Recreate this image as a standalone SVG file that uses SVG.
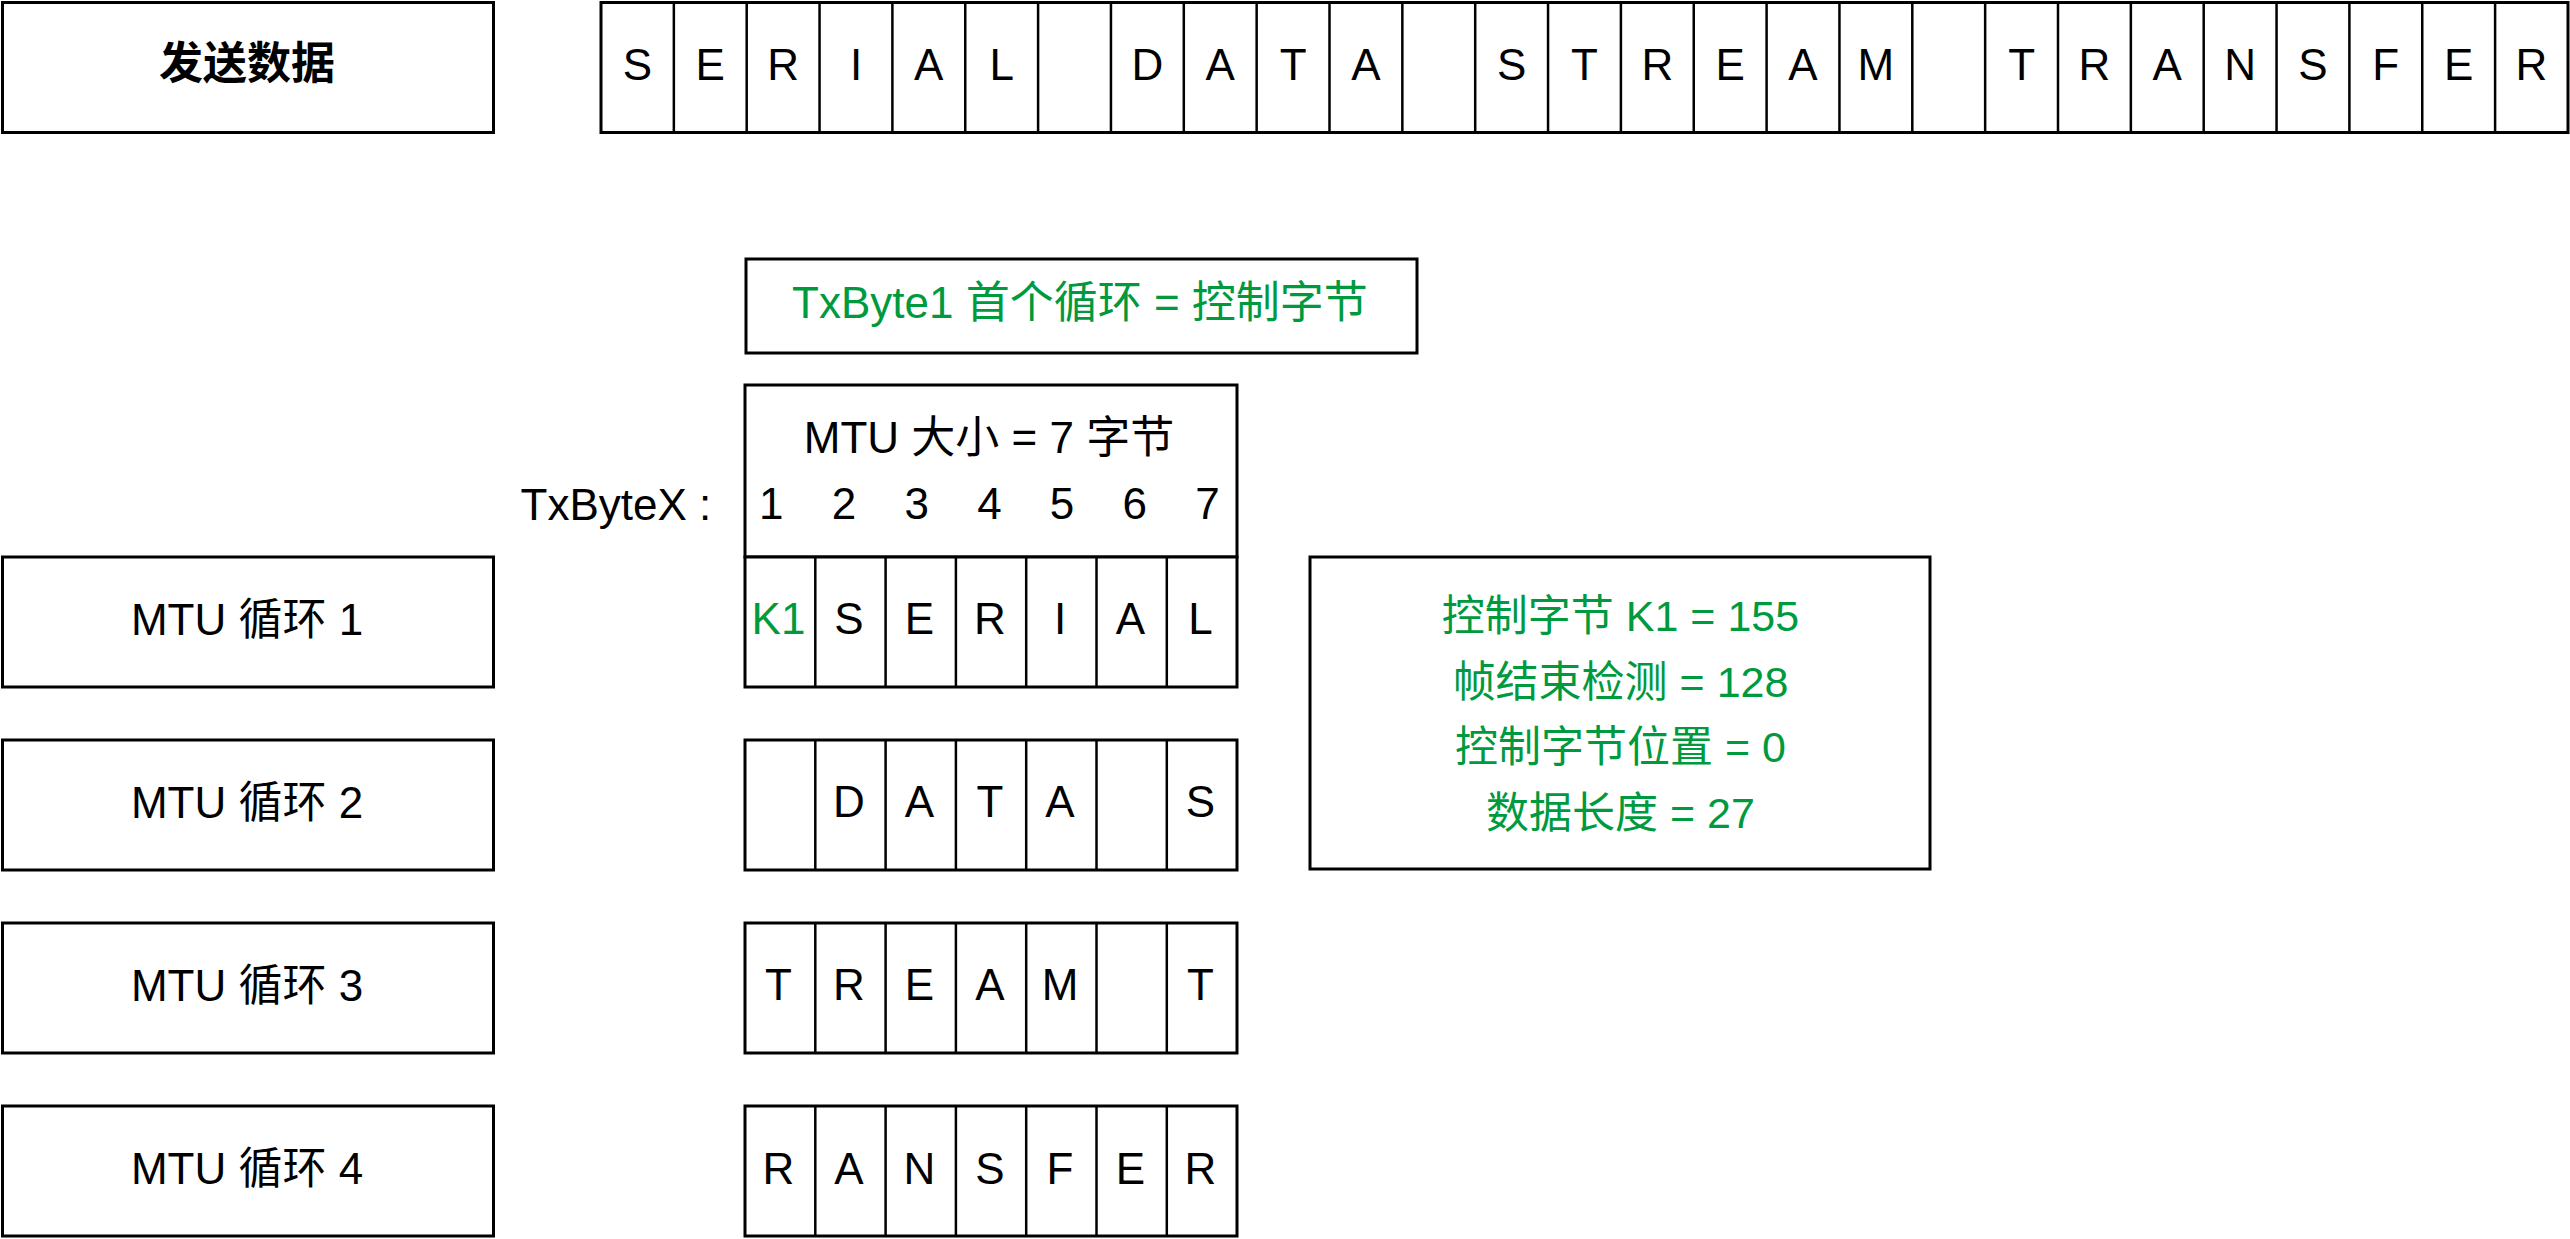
<svg xmlns="http://www.w3.org/2000/svg" width="2570" height="1239" viewBox="0 0 2570 1239">
<style>
.bx{fill:#fff;stroke:#000;stroke-width:3}
.dv{fill:none;stroke:#000;stroke-width:2.5}
text{font-family:"Liberation Sans","Noto Sans CJK SC",sans-serif;font-size:44px;fill:#000}
.c{text-anchor:middle}
.g{fill:#009A3E}
.b{font-weight:bold}
.i{font-size:43px}
</style>
<rect width="2570" height="1239" fill="#fff"/>
<g id="send-data">
<rect class="bx" x="2.5" y="2.5" width="491" height="130"/>
<text class="c b" x="247" y="79">发送数据</text>
</g>
<g id="data-strip">
<rect class="bx" x="601" y="2.5" width="1967" height="130"/>
<path class="dv" d="M673.85 2.5V132.5M746.7 2.5V132.5M819.55 2.5V132.5M892.4 2.5V132.5M965.25 2.5V132.5M1038.1 2.5V132.5M1110.95 2.5V132.5M1183.8 2.5V132.5M1256.65 2.5V132.5M1329.5 2.5V132.5M1402.35 2.5V132.5M1475.2 2.5V132.5M1548.05 2.5V132.5M1620.9 2.5V132.5M1693.75 2.5V132.5M1766.6 2.5V132.5M1839.45 2.5V132.5M1912.3 2.5V132.5M1985.15 2.5V132.5M2058 2.5V132.5M2130.85 2.5V132.5M2203.7 2.5V132.5M2276.55 2.5V132.5M2349.4 2.5V132.5M2422.25 2.5V132.5M2495.1 2.5V132.5"/>
<g class="c">
<text class="c" x="637.4" y="80">S</text>
<text class="c" x="710.3" y="80">E</text>
<text class="c" x="783.1" y="80">R</text>
<text class="c" x="856" y="80">I</text>
<text class="c" x="928.8" y="80">A</text>
<text class="c" x="1001.7" y="80">L</text>
<text class="c" x="1147.4" y="80">D</text>
<text class="c" x="1220.2" y="80">A</text>
<text class="c" x="1293.1" y="80">T</text>
<text class="c" x="1365.9" y="80">A</text>
<text class="c" x="1511.6" y="80">S</text>
<text class="c" x="1584.5" y="80">T</text>
<text class="c" x="1657.3" y="80">R</text>
<text class="c" x="1730.2" y="80">E</text>
<text class="c" x="1803" y="80">A</text>
<text class="c" x="1875.9" y="80">M</text>
<text class="c" x="2021.6" y="80">T</text>
<text class="c" x="2094.4" y="80">R</text>
<text class="c" x="2167.3" y="80">A</text>
<text class="c" x="2240.1" y="80">N</text>
<text class="c" x="2313" y="80">S</text>
<text class="c" x="2385.8" y="80">F</text>
<text class="c" x="2458.7" y="80">E</text>
<text class="c" x="2531.5" y="80">R</text>
</g>
</g>
<g id="txbyte1-note">
<rect class="bx" x="746" y="259" width="671" height="94"/>
<text class="c g" x="1080" y="318">TxByte1 首个循环 = 控制字节</text>
</g>
<g id="txbytex-label">
<text x="520.5" y="520">TxByteX :</text>
</g>
<g id="mtu-size">
<rect class="bx" x="745" y="385" width="492" height="172"/>
<text class="c" x="989" y="453">MTU 大小 = 7 字节</text>
<text class="c" x="771.3" y="519">1</text>
<text class="c" x="844" y="519">2</text>
<text class="c" x="916.7" y="519">3</text>
<text class="c" x="989.4" y="519">4</text>
<text class="c" x="1062.1" y="519">5</text>
<text class="c" x="1134.8" y="519">6</text>
<text class="c" x="1207.5" y="519">7</text>
</g>
<g id="mtu-cycle-1">
<rect class="bx" x="2.5" y="557" width="491" height="130"/>
<text class="c" x="247" y="635">MTU 循环 1</text>
</g>
<g id="mtu-cycle-2">
<rect class="bx" x="2.5" y="740" width="491" height="130"/>
<text class="c" x="247" y="818">MTU 循环 2</text>
</g>
<g id="mtu-cycle-3">
<rect class="bx" x="2.5" y="923" width="491" height="130"/>
<text class="c" x="247" y="1001">MTU 循环 3</text>
</g>
<g id="mtu-cycle-4">
<rect class="bx" x="2.5" y="1106" width="491" height="130"/>
<text class="c" x="247" y="1184">MTU 循环 4</text>
</g>
<g id="cycle-1-bytes">
<rect class="bx" x="745" y="557" width="492" height="130"/>
<path class="dv" d="M815.3 557V687M885.6 557V687M955.9 557V687M1026.2 557V687M1096.5 557V687M1166.8 557V687"/>
<text class="c g" x="778.5" y="634">K1</text>
<text class="c" x="849" y="634">S</text>
<text class="c" x="919.5" y="634">E</text>
<text class="c" x="990" y="634">R</text>
<text class="c" x="1060" y="634">I</text>
<text class="c" x="1130.5" y="634">A</text>
<text class="c" x="1200.5" y="634">L</text>
</g>
<g id="cycle-2-bytes">
<rect class="bx" x="745" y="740" width="492" height="130"/>
<path class="dv" d="M815.3 740V870M885.6 740V870M955.9 740V870M1026.2 740V870M1096.5 740V870M1166.8 740V870"/>
<text class="c" x="849" y="817">D</text>
<text class="c" x="919.5" y="817">A</text>
<text class="c" x="990" y="817">T</text>
<text class="c" x="1060" y="817">A</text>
<text class="c" x="1200.5" y="817">S</text>
</g>
<g id="cycle-3-bytes">
<rect class="bx" x="745" y="923" width="492" height="130"/>
<path class="dv" d="M815.3 923V1053M885.6 923V1053M955.9 923V1053M1026.2 923V1053M1096.5 923V1053M1166.8 923V1053"/>
<text class="c" x="778.5" y="1000">T</text>
<text class="c" x="849" y="1000">R</text>
<text class="c" x="919.5" y="1000">E</text>
<text class="c" x="990" y="1000">A</text>
<text class="c" x="1060" y="1000">M</text>
<text class="c" x="1200.5" y="1000">T</text>
</g>
<g id="cycle-4-bytes">
<rect class="bx" x="745" y="1106" width="492" height="130"/>
<path class="dv" d="M815.3 1106V1236M885.6 1106V1236M955.9 1106V1236M1026.2 1106V1236M1096.5 1106V1236M1166.8 1106V1236"/>
<text class="c" x="778.5" y="1184">R</text>
<text class="c" x="849" y="1184">A</text>
<text class="c" x="919.5" y="1184">N</text>
<text class="c" x="990" y="1184">S</text>
<text class="c" x="1060" y="1184">F</text>
<text class="c" x="1130.5" y="1184">E</text>
<text class="c" x="1200.5" y="1184">R</text>
</g>
<g id="control-info">
<rect class="bx" x="1310" y="557" width="620" height="312"/>
<text class="c g i" x="1620.5" y="631">控制字节 K1 = 155</text>
<text class="c g i" x="1620.5" y="697">帧结束检测 = 128</text>
<text class="c g i" x="1620.5" y="762">控制字节位置 = 0</text>
<text class="c g i" x="1620.5" y="828">数据长度 = 27</text>
</g>
<g id="connectors"></g>
</svg>
